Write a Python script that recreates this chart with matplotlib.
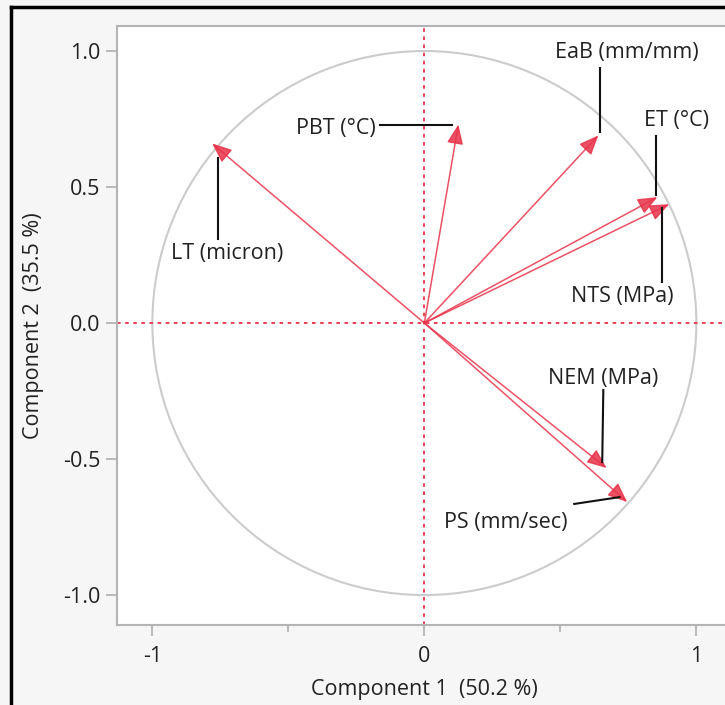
import matplotlib.pyplot as plt
from matplotlib.patches import Circle
from matplotlib.lines import Line2D

# loadings
variables = ["LT (micron)", "PBT (°C)", "EaB (mm/mm)", "ET (°C)", "NTS (MPa)", "NEM (MPa)", "PS (mm/sec)"]
comp1 = [-0.78, 0.125, 0.64, 0.857, 0.90, 0.67, 0.746]
comp2 = [0.66, 0.73, 0.69, 0.463, 0.437, -0.533, -0.658]

xticks = [-1, 0, 1]
yticks = [1.0, 0.5, 0.0, -0.5, -1.0]
xlabel = "Component 1  (50.2 %)"
ylabel = "Component 2  (35.5 %)"

# label placement: text centre, leader start, leader end
label_pos = [(-0.724, 0.254), (-0.324, 0.717), (0.743, 0.996), (0.926, 0.743),
             (0.728, 0.096), (0.658, -0.202), (0.301, -0.732)]
leader_a = [(-0.757, 0.31), (-0.162, 0.728), (0.647, 0.937), (0.853, 0.687),
            (0.875, 0.151), (0.658, -0.246), (0.551, -0.665)]
leader_b = [(-0.757, 0.607), (0.103, 0.728), (0.647, 0.702), (0.853, 0.47),
            (0.875, 0.423), (0.654, -0.511), (0.717, -0.640)]

plt.rcParams['font.family'] = ['Open Sans', 'DejaVu Sans']

red = '#e8334a'
grey = '#b4b4b4'
fs = 15.5

fig = plt.figure(figsize=(7.25, 7.05), dpi=100, facecolor='#f6f6f6')
ax = fig.add_axes([117 / 725, 80 / 705, 614.7 / 725, 599 / 705])
ax.set_facecolor('white')
ax.set_xlim(-1.13, 1.13)
ax.set_ylim(-1.11, 1.092)

for s in ax.spines.values():
    s.set_color(grey)
    s.set_linewidth(1.5)

ax.add_patch(Circle((0, 0), 1, fill=False, ec='#cccccc', lw=1.5, zorder=1))
ax.axhline(0, color=red, lw=1.3, ls=(0, (2, 2.5)), zorder=2)
ax.axvline(0, color=red, lw=1.3, ls=(0, (2, 2.5)), zorder=2)

for i, name in enumerate(variables):
    ax.annotate("", xy=(comp1[i], comp2[i]), xytext=(0, 0),
                arrowprops=dict(arrowstyle='-|>,head_length=0.6,head_width=0.25',
                                mutation_scale=20, color=red, lw=1.1, alpha=0.85,
                                shrinkA=0, shrinkB=0), zorder=3)
    ax.plot([leader_a[i][0], leader_b[i][0]], [leader_a[i][1], leader_b[i][1]],
            color='#111111', lw=1.5, zorder=4)
    ax.text(label_pos[i][0], label_pos[i][1], name, ha='center', va='center',
            fontsize=fs, color='#222222', zorder=5)

ax.set_xticks(xticks)
ax.set_xticklabels([str(t) for t in xticks])
ax.set_xticks([-0.5, 0.5], minor=True)
ax.set_yticks(yticks)
ax.set_yticklabels([f"{t:.1f}" for t in yticks])
ax.tick_params(which='major', length=8, width=1.3, color=grey, labelsize=fs,
               labelcolor='#222222', pad=4)
ax.tick_params(axis='x', which='major', pad=7)
ax.tick_params(which='minor', length=5, width=1.3, color=grey)
for tk in ax.xaxis.get_major_ticks():
    if tk.get_loc() == 0:
        tk.tick1line.set_color(red)
for tk in ax.yaxis.get_major_ticks():
    if tk.get_loc() == 0:
        tk.tick1line.set_color(red)

ax.set_xlabel(xlabel, fontsize=fs, color='#222222', labelpad=9)
ax.set_ylabel(ylabel, fontsize=fs, color='#222222', labelpad=14)

# black window border on left and top
fig.add_artist(Line2D([11 / 725, 11 / 725], [0, 1 - 7 / 705], color='black', lw=2.5))
fig.add_artist(Line2D([11 / 725, 1], [1 - 7 / 705, 1 - 7 / 705], color='black', lw=2.5))

fig.savefig('out.png', dpi=100, facecolor=fig.get_facecolor())
